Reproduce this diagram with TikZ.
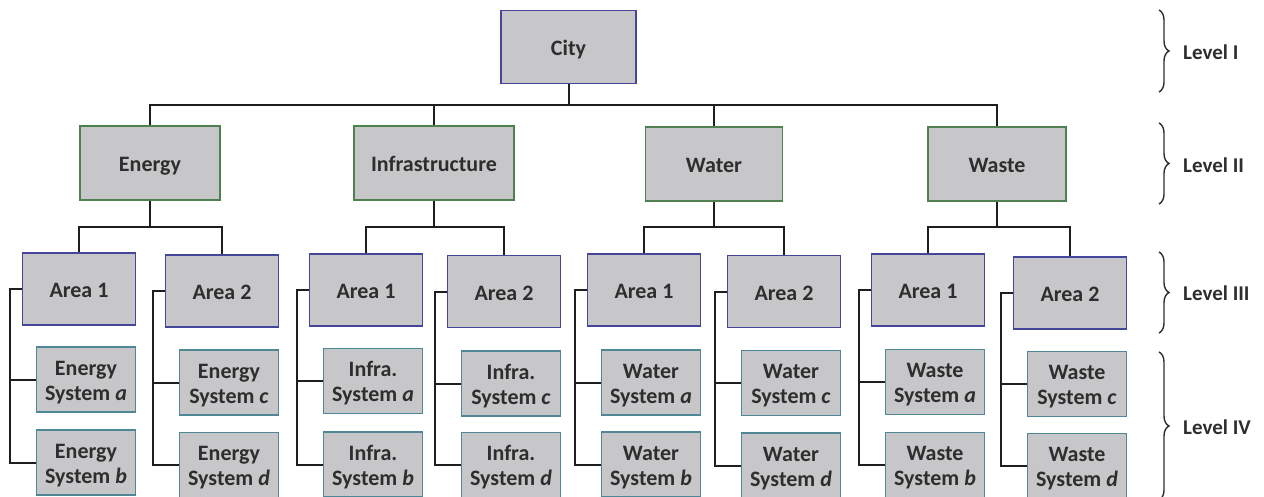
\documentclass[tikz,border=0pt]{standalone}
\usepackage{fontspec}
\setmainfont{Carlito}
\usetikzlibrary{decorations.pathreplacing}

\definecolor{boxfill}{HTML}{C7C7C9}
\definecolor{bluedge}{HTML}{45459A}
\definecolor{greenedge}{HTML}{4F8050}
\definecolor{tealedge}{HTML}{4E8896}
\definecolor{ink}{HTML}{2E2E2E}
\definecolor{wirecol}{HTML}{1E1E1E}

\begin{document}
\begin{tikzpicture}[x=1pt,y=-1pt,
  every node/.style={font=\fontsize{22}{25}\selectfont\bfseries, text=ink, inner sep=0pt, align=center},
  base/.style={draw, fill=boxfill, line width=1.8pt},
  oneline/.style={text height=17pt, text depth=0pt},
  topbox/.style={base, oneline, draw=bluedge, minimum width=135pt, minimum height=73pt},
  sector/.style={base, oneline, draw=greenedge, minimum height=74pt},
  area/.style={base, oneline, draw=bluedge, minimum width=113pt, minimum height=72pt},
  sysbox/.style={base, draw=tealedge, minimum width=99pt, minimum height=65pt, text height=41pt, text depth=0pt},
  wire/.style={draw=wirecol, line width=2pt},
  lvl/.style={anchor=west, font=\fontsize{21}{25}\selectfont\bfseries},
  bracket/.style={draw=ink, line width=1.4pt, decorate, decoration={brace, amplitude=10pt}}
]
\useasboundingbox (0,0) rectangle (1264,497);

% Level I
\node[topbox] (city) at (568.5,47) {City};

% Level II
\node[sector, minimum width=140pt] (energy) at (150,163) {Energy};
\node[sector, minimum width=160pt] (infra)  at (434,163) {Infrastructure};
\node[sector, minimum width=137pt] (water)  at (714,164) {Water};
\node[sector, minimum width=138pt] (waste)  at (997,164) {Waste};

\coordinate (bus) at (568.5,105);
\draw[wire] (city.south) -- (bus);
\foreach \n in {energy,infra,water,waste}
  \draw[wire] (\n.north) |- (bus);

% junctions below each sector
\coordinate (energyJ) at (150,227);
\coordinate (infraJ)  at (434,227);
\coordinate (waterJ)  at (714,227);
\coordinate (wasteJ)  at (997,227);
\foreach \n in {energy,infra,water,waste}
  \draw[wire] (\n.south) -- (\n J);

% Level III areas and Level IV systems
\foreach \id/\ax/\ay/\sa/\sb/\pre/\la/\lb/\num/\jn in {
  en1/79/289/379.5/462.5/Energy/a/b/1/energyJ,
  en2/222/291/382.5/465/Energy/c/d/2/energyJ,
  in1/366/290/381/464.5/Infra./a/b/1/infraJ,
  in2/504/291.5/383.5/465/Infra./c/d/2/infraJ,
  wa1/644/290/382.5/464.5/Water/a/b/1/waterJ,
  wa2/784/291.5/383/465.5/Water/c/d/2/waterJ,
  ws1/928/290/382/465/Waste/a/b/1/wasteJ,
  ws2/1070/293/384/466/Waste/c/d/2/wasteJ}
{
  \node[area] (\id) at (\ax,\ay) {Area \num};
  \node[sysbox] (\id-\la) at (\ax+7,\sa) {\pre\\System \textit{\la}};
  \node[sysbox] (\id-\lb) at (\ax+7,\sb) {\pre\\System \textit{\lb}};
  \draw[wire] (\id.north) |- (\jn);
  \coordinate (\id-s) at ([xshift=-12pt]\id.west);
  \draw[wire] (\id.west) -- (\id-s) |- (\id-\lb.west);
  \draw[wire] (\id-\la.west) -- (\id-\la.west -| \id-s);
}

% level braces and labels
\coordinate (b1t) at (1159,10);  \coordinate (b1b) at (1159,92);
\coordinate (b2t) at (1159,123); \coordinate (b2b) at (1159,204);
\coordinate (b3t) at (1159,252); \coordinate (b3b) at (1159,333);
\coordinate (b4t) at (1159,352); \coordinate (b4b) at (1159,500);
\draw[bracket] (b1t) -- (b1b);
\draw[bracket] (b2t) -- (b2b);
\draw[bracket] (b3t) -- (b3b);
\draw[bracket] (b4t) -- (b4b);
\node[lvl] (lv1) at (1183,52)  {Level I};
\node[lvl] (lv2) at (1183,165) {Level II};
\node[lvl] (lv3) at (1183,293) {Level III};
\node[lvl] (lv4) at (1183,427) {Level IV};
\end{tikzpicture}
\end{document}
